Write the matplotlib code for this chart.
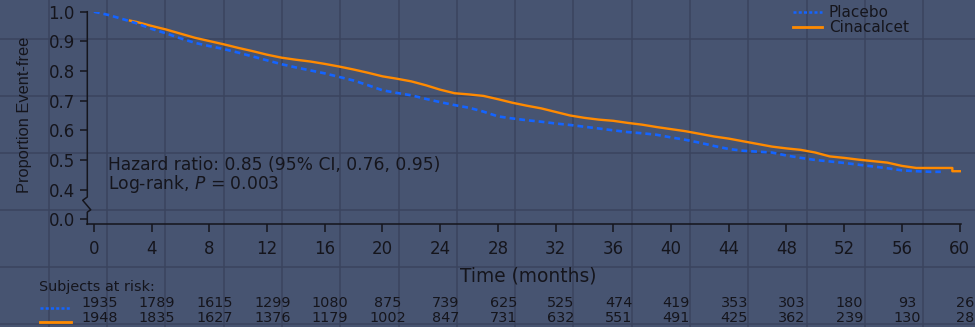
import matplotlib
matplotlib.use("Agg")
import matplotlib.pyplot as plt
from matplotlib.lines import Line2D
import matplotlib.transforms as mtransforms

# ---------------- data ----------------
placebo_t = [0, 1, 2, 3, 4, 5, 6, 7, 8, 9, 10, 11, 12, 13, 14, 15, 16, 17, 18, 19,
             20, 21, 22, 23, 24, 25, 26, 27, 28, 29, 30, 31, 32, 33, 34, 35, 36, 37,
             38, 39, 40, 41, 42, 43, 44, 45, 46, 47, 48, 49, 50, 51, 52, 53, 54, 55,
             56, 57, 58, 58.7]
placebo_s = [1.0, 0.989, 0.975, 0.960, 0.942, 0.927, 0.910, 0.895, 0.884, 0.874,
             0.862, 0.849, 0.836, 0.823, 0.812, 0.802, 0.792, 0.780, 0.768, 0.752,
             0.735, 0.726, 0.718, 0.706, 0.695, 0.685, 0.676, 0.663, 0.647, 0.640,
             0.634, 0.629, 0.623, 0.618, 0.612, 0.606, 0.600, 0.594, 0.590, 0.585,
             0.576, 0.568, 0.558, 0.547, 0.537, 0.531, 0.528, 0.525, 0.515, 0.507,
             0.500, 0.495, 0.490, 0.484, 0.478, 0.472, 0.465, 0.462, 0.460, 0.460]

cina_t = [2.5, 3, 4, 5, 6, 7, 8, 9, 10, 11, 12, 13, 14, 15, 16, 17, 18, 19, 20, 21,
          22, 23, 24, 25, 26, 27, 28, 29, 30, 31, 32, 33, 34, 35, 36, 37, 38, 39, 40,
          41, 42, 43, 44, 45, 46, 47, 48, 49, 50, 51, 52, 53, 54, 55, 56, 57, 59.5,
          59.5, 60.2]
cina_s = [0.970, 0.965, 0.952, 0.940, 0.926, 0.912, 0.901, 0.890, 0.878, 0.867,
          0.855, 0.845, 0.838, 0.832, 0.824, 0.815, 0.805, 0.794, 0.782, 0.774,
          0.765, 0.752, 0.737, 0.725, 0.721, 0.716, 0.705, 0.693, 0.683, 0.674,
          0.662, 0.650, 0.642, 0.636, 0.632, 0.625, 0.619, 0.611, 0.604, 0.597,
          0.588, 0.579, 0.572, 0.563, 0.554, 0.545, 0.539, 0.534, 0.525, 0.512,
          0.507, 0.501, 0.496, 0.491, 0.480, 0.473, 0.473, 0.462, 0.462]

risk_times = [0, 4, 8, 12, 16, 20, 24, 28, 32, 36, 40, 44, 48, 52, 56, 60]
placebo_risk = [1935, 1789, 1615, 1299, 1080, 875, 739, 625, 525, 474, 419, 353, 303, 180, 93, 26]
cina_risk = [1948, 1835, 1627, 1376, 1179, 1002, 847, 731, 632, 551, 491, 425, 362, 239, 130, 28]

ytick_values = [0.0, 0.4, 0.5, 0.6, 0.7, 0.8, 0.9, 1.0]
ytick_labels = ["0.0", "0.4", "0.5", "0.6", "0.7", "0.8", "0.9", "1.0"]
xticks = list(range(0, 61, 4))

series_names = ["Placebo", "Cinacalcet"]
hr_text = "Hazard ratio: 0.85 (95% CI, 0.76, 0.95)"
p_text = r"Log-rank, $\it{P}$ = 0.003"

# ---------------- style ----------------
BG = "#475471"
GRID = "#3a445e"
BLUE = "#1464ff"
ORANGE = "#ff8a00"
INK = "#15151c"
W, H = 975, 327
plt.rcParams["font.family"] = ["DejaVu Sans"]


def fx(px):
    return px / W


def fy(py):
    return 1 - py / H


def brk(v):
    # axis break: values below 0.4 are shifted up by 0.3
    return v if v >= 0.35 else v + 0.3


fig = plt.figure(figsize=(W / 100, H / 100), dpi=100)
fig.patch.set_facecolor(BG)

# background graph-paper grid
gx = 48.7
while gx < W:
    fig.add_artist(Line2D([fx(gx), fx(gx)], [0, 1], transform=fig.transFigure,
                          color=GRID, lw=1.1, zorder=-5))
    gx += 58.3
gy = 39.3
while gy < H:
    fig.add_artist(Line2D([0, 1], [fy(gy), fy(gy)], transform=fig.transFigure,
                          color=GRID, lw=1.1, zorder=-5))
    gy += 57.0

ax_l, ax_r, ax_t, ax_b = 87.3, 961.0, 11.7, 224.3
ax = fig.add_axes([fx(ax_l), fy(ax_b), fx(ax_r - ax_l), (ax_b - ax_t) / H])
ax.set_facecolor("none")

ax.plot(cina_t, cina_s, color=ORANGE, lw=1.7, zorder=3)
ax.plot(placebo_t, placebo_s, color=BLUE, lw=1.9,
        linestyle=(0, (2.2, 1.5)), zorder=4)

ax.set_xlim(-0.46, 60.1)
ax.set_ylim(0.283, 1.0)

ax.set_xticks(xticks)
ax.set_xticklabels([str(t) for t in xticks])
ax.set_yticks([brk(v) for v in ytick_values])
ax.set_yticklabels(ytick_labels)
ax.tick_params(axis="both", colors=INK, labelcolor=INK, labelsize=12, width=1.1,
               direction="out")
ax.tick_params(axis="x", length=6, pad=5)
ax.tick_params(axis="y", length=5, pad=4)

for s in ["top", "right", "left"]:
    ax.spines[s].set_visible(False)
ax.spines["bottom"].set_color(INK)
ax.spines["bottom"].set_linewidth(1.1)

# left spine with break zigzag
sx = 1.0 / (ax_r - ax_l)
ax.add_line(Line2D([0, 0, -4.6 * sx, 3.4 * sx, 0, 0],
                   [1.0, 0.375, 0.364, 0.332, 0.324, 0.283],
                   transform=ax.get_yaxis_transform(), color=INK, lw=1.1,
                   clip_on=False, zorder=5))

# annotations
fig.text(fx(108), fy(165), hr_text, fontsize=12.3, color=INK, va="center", ha="left")
fig.text(fx(108), fy(184.5), p_text, fontsize=12.3, color=INK, va="center", ha="left")

fig.text(fx(25), fy(115), "Proportion Event-free", rotation=90, fontsize=11.8,
         family=["Liberation Sans", "DejaVu Sans"], color=INK, ha="center", va="center")
fig.text(fx(528), fy(276), "Time (months)", fontsize=13.4, color=INK,
         ha="center", va="center")

# legend (top right)
leg_styles = [dict(color=BLUE, lw=1.8, linestyle=(0, (1.2, 0.9))),
              dict(color=ORANGE, lw=2.0, linestyle="-")]
for name, ypx, st in zip(series_names, [12.3, 27.3], leg_styles):
    fig.add_artist(Line2D([fx(792.7), fx(821.7)], [fy(ypx), fy(ypx)],
                          transform=fig.transFigure, **st))
    fig.text(fx(829), fy(ypx), name, fontsize=11.0, color=INK, ha="left", va="center")

# number at risk table
fig.text(fx(39), fy(287), "Subjects at risk:", fontsize=10.4, color=INK,
         ha="left", va="center")
bt = mtransforms.blended_transform_factory(ax.transData, fig.transFigure)
for ypx, lypx, counts, st in zip([303.3, 318.3], [308.3, 322.0],
                                 [placebo_risk, cina_risk], leg_styles):
    fig.add_artist(Line2D([fx(40), fx(71)], [fy(lypx), fy(lypx)],
                          transform=fig.transFigure, **st))
    for t, n in zip(risk_times, counts):
        fig.text(t + 0.37, fy(ypx), str(n), transform=bt, fontsize=10.4, color=INK,
                 ha="center", va="center")

fig.savefig("out.png", dpi=100, facecolor=BG)
